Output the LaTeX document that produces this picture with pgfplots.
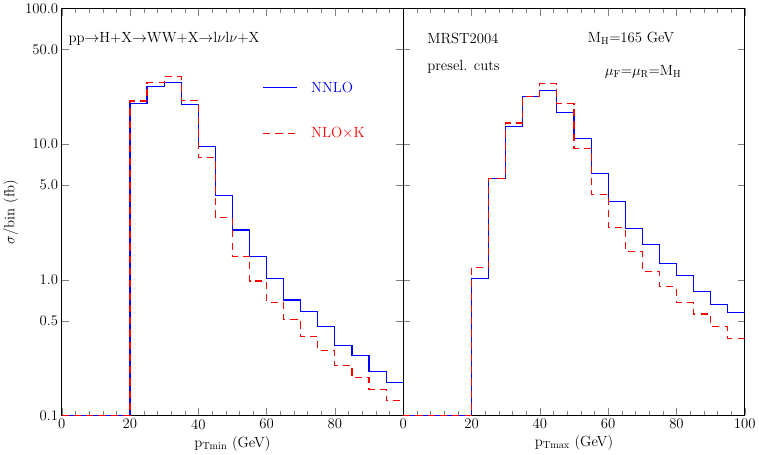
\documentclass[border=0pt]{standalone}
\usepackage{pgfplots}
\pgfplotsset{compat=1.18}
\definecolor{cb}{RGB}{0,0,255}
\definecolor{cr}{RGB}{255,0,0}
\pgfplotsset{
  myax/.style={scale only axis, width=334pt, height=398pt, ymin=0.1, ymax=100, xmin=0, xmax=100,
    ytick={0.1,0.5,1,5,10,50,100}, xtick={0,20,40,60,80,100}, minor x tick num=4,
    tick align=inside, major tick length=7pt, minor tick length=4pt,
    xtick pos=both, ytick pos=both, clip=false,
    tick label style={font=\Large},
    label style={font=\Large},
    axis line style={line width=0.8pt}},
  nn/.style={color=cb, line width=1.1pt, const plot mark left, mark=none},
  nk/.style={color=cr, line width=1.1pt, const plot mark left, mark=none, dash pattern=on 7pt off 5pt},
}
\begin{document}
\begin{tikzpicture}
\begin{semilogyaxis}[myax, name=L, at={(0,0)},
  yticklabels={0.1,0.5,1.0,5.0,10.0,50.0,100.0},
  xticklabels={0,20,40,60,80,{}},
  ylabel={$\sigma$/bin (fb)}, xlabel={p$_{\rm Tmin}$ (GeV)}]
\addplot[nn] coordinates {(0,0.1)(20,20)(25,26.7)(30,28.6)(35,19.7)(40,9.6)(45,4.2)(50,2.33)(55,1.49)(60,1.03)(65,0.71)(70,0.58)(75,0.456)(80,0.33)(85,0.275)(90,0.212)(95,0.176)(100,0.176)};
\addplot[nk] coordinates {(0,0.1)(20,20.8)(25,28.3)(30,31.3)(35,21)(40,8.0)(45,2.86)(50,1.49)(55,0.98)(60,0.68)(65,0.51)(70,0.38)(75,0.30)(80,0.235)(85,0.19)(90,0.155)(95,0.128)(100,0.128)};
\node[anchor=west, font=\Large] at (axis cs:1,60) {pp$\to$H+X$\to$WW+X$\to$l$\nu$l$\nu$+X};
\draw[color=cb, line width=1.1pt] (axis cs:59,26) -- (axis cs:69,26);
\node[anchor=west, text=cb, font=\Large] at (axis cs:72,26) {NNLO};
\draw[color=cr, line width=1.1pt, dash pattern=on 7pt off 5pt] (axis cs:59,12) -- (axis cs:69,12);
\node[anchor=west, text=cr, font=\Large] at (axis cs:72,12) {NLO$\times$K};
\end{semilogyaxis}
\begin{semilogyaxis}[myax, at={(334pt,0)}, yticklabels={}, xlabel={p$_{\rm Tmax}$ (GeV)}]
\addplot[nn] coordinates {(0,0.1)(20,1.03)(25,5.55)(30,13.5)(35,22.4)(40,24.9)(45,17.1)(50,11.0)(55,6.1)(60,3.79)(65,2.39)(70,1.81)(75,1.32)(80,1.07)(85,0.82)(90,0.66)(95,0.574)(100,0.574)};
\addplot[nk] coordinates {(0,0.1)(20,1.23)(25,5.6)(30,14.3)(35,22.6)(40,27.8)(45,19.8)(50,9.3)(55,4.28)(60,2.42)(65,1.62)(70,1.15)(75,0.886)(80,0.68)(85,0.56)(90,0.45)(95,0.37)(100,0.37)};
\node[anchor=west, font=\Large] at (axis cs:6,60) {MRST2004};
\node[anchor=west, font=\Large] at (axis cs:6,37) {presel. cuts};
\node[anchor=west, font=\Large] at (axis cs:53,60) {M$_{\rm H}$=165 GeV};
\node[anchor=west, font=\Large] at (axis cs:58,34) {$\mu_{\rm F}$=$\mu_{\rm R}$=M$_{\rm H}$};
\end{semilogyaxis}
\end{tikzpicture}
\end{document}
